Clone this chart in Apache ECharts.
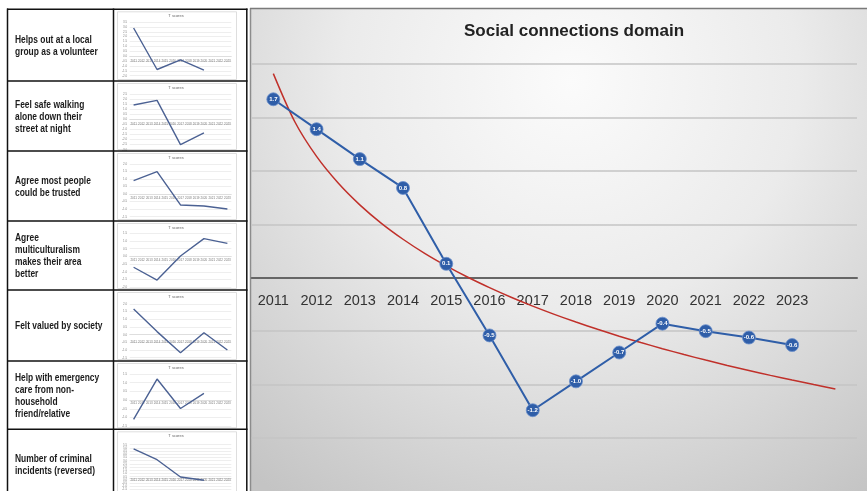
<!DOCTYPE html>
<html>
<head>
<meta charset="utf-8">
<script src="https://cdn.jsdelivr.net/npm/echarts@6/dist/echarts.min.js"></script>
<style>
html, body { margin: 0; padding: 0; background: #fff; }
#chart { width: 867px; height: 491px; }
</style>
</head>
<body>
<div id="chart"></div>
<script>
// main chart data
const years = ['2011', '2012', '2013', '2014', '2015', '2016', '2017', '2018', '2019', '2020', '2021', '2022', '2023', '']
const domainScores = [1.67, 1.39, 1.11, 0.84, 0.13, -0.54, -1.24, -0.97, -0.7, -0.43, -0.5, -0.56, -0.63]
// red trend line, every half year (it runs one period past 2023)
const trendPositions = [0, 0.5, 1, 1.5, 2, 2.5, 3, 3.5, 4, 4.5, 5, 5.5, 6, 6.5, 7, 7.5, 8, 8.5, 9, 9.5, 10, 10.5, 11, 11.5, 12, 12.5, 13]
const trendScores = [1.91, 1.457, 1.135, 0.886, 0.682, 0.509, 0.36, 0.228, 0.111, 0.004, -0.093, -0.183, -0.266, -0.343, -0.415, -0.483, -0.547, -0.607, -0.664, -0.719, -0.771, -0.821, -0.868, -0.914, -0.958, -1.0, -1.041]

// small table
const indicatorNames = [
	'Helps out at a local\ngroup as a volunteer',
	'Feel safe walking\nalone down their\nstreet at night',
	'Agree most people\ncould be trusted',
	'Agree\nmulticulturalism\nmakes their area\nbetter',
	'Felt valued by society',
	'Help with emergency\ncare from non-\nhousehold\nfriend/relative',
	'Number of criminal\nincidents (reversed)'
]
const miniYears = ['2011', '2012', '2013', '2014', '2015', '2016', '2017', '2018', '2019', '2020', '2021', '2022', '2023']
const volunteerScores = [5.77, null, null, -2.73, null, null, -0.74, null, null, -2.86, null, null, null]
const safeWalkingScores = [2.83, null, null, 3.75, null, null, -5, null, null, -2.7, null, null, null]
const trustScores = [1.79, null, null, 2.98, null, null, -1.44, null, null, -1.58, null, null, -1.97]
const multiculturalScores = [-1.4, null, null, -3.06, null, null, 0.06, null, null, 2.31, null, null, 1.7]
const valuedScores = [3.35, null, null, 0.4, null, null, -2.35, null, null, 0.26, null, null, -2.0]
const emergencyCareScores = [-2.2, null, null, 2.42, null, null, -0.96, null, null, 0.77, null, null, null]
const crimeScores = [9.72, null, null, 6.3, null, null, 0.9, null, null, -0.1, null, null, null]
const miniSeries = [volunteerScores, safeWalkingScores, trustScores, multiculturalScores, valuedScores, emergencyCareScores, crimeScores]

// layout of the table (pixels) and of each small chart's axis
const rowTops = [9.3, 81, 151, 221, 290, 361, 429.3, 499]
const miniLayout = [
	{ top: 22.0, bottom: 75.7, max: 7, min: -4, gap: 3 },
	{ top: 94.0, bottom: 149.7, max: 5, min: -6, gap: 3.8 },
	{ top: 164.0, bottom: 216.7, max: 4, min: -3, gap: 2.7 },
	{ top: 233.3, bottom: 287.3, max: 3, min: -4, gap: 2 },
	{ top: 304.0, bottom: 357.7, max: 4, min: -3, gap: 6 },
	{ top: 374.0, bottom: 426.3, max: 3, min: -3, gap: 1.5 },
	{ top: 444.7, bottom: 499.3, max: 11, min: -3, gap: 0.5 }
]
const mainGrid = { left: 251.7, right: 10, top: 64, bottom: 53 }
const mainMin = -1.5
const mainMax = 2

const sans = '"Liberation Sans", Arial, sans-serif'
const chart = echarts.init(document.getElementById('chart'))

function buildGraphic() {
	const g = []
	// main panel background
	g.push({
		type: 'rect', z: -10, silent: true,
		shape: { x: 250, y: 8, width: 617, height: 483 },
		style: {
			fill: {
				type: 'radial', x: 0.52, y: 0.15, r: 1.05,
				colorStops: [
					{ offset: 0, color: '#fbfbfb' },
					{ offset: 0.45, color: '#ebebeb' },
					{ offset: 1, color: '#c4c4c4' }
				]
			}
		}
	})
	g.push({ type: 'line', z: -9, shape: { x1: 250.5, y1: 8, x2: 250.5, y2: 491 }, style: { stroke: '#8c8c8c', lineWidth: 1.5 } })
	g.push({ type: 'line', z: -9, shape: { x1: 250, y1: 8.5, x2: 867, y2: 8.5 }, style: { stroke: '#7a7a7a', lineWidth: 1.5 } })

	// table cells
	for (let i = 0; i < indicatorNames.length; i++) {
		const top = rowTops[i]
		const bottom = rowTops[i + 1]
		g.push({
			type: 'rect', z: -5,
			shape: { x: 117.5, y: top + 2.5, width: 119, height: bottom - top - 4 },
			style: { fill: '#fff', stroke: '#d6d6d6', lineWidth: 0.8 }
		})
		g.push({
			type: 'text', z: 5,
			x: 176, y: top + 6.5,
			style: { text: 'T scores', fontSize: 4, fill: '#666', align: 'center', verticalAlign: 'middle', fontFamily: sans }
		})
		g.push({
			type: 'text', z: 5,
			x: 15, y: (top + bottom) / 2 + 1, scaleX: 0.78,
			style: {
				text: indicatorNames[i], fontSize: 10.8, fontWeight: 'bold', fill: '#1b1b1b',
				lineHeight: 12, align: 'left', verticalAlign: 'middle', fontFamily: sans
			}
		})
		g.push({ type: 'line', z: 6, shape: { x1: 7, y1: top, x2: 247.5, y2: top }, style: { stroke: '#111', lineWidth: 1.5 } })
	}
	;[7.5, 113.5, 246.8].forEach(x => {
		g.push({ type: 'line', z: 6, shape: { x1: x, y1: 8.5, x2: x, y2: 491 }, style: { stroke: '#111', lineWidth: 1.5 } })
	})
	return g
}

// the x axis sits at zero; push it up from the bottom of its grid
const mainHeight = 491 - mainGrid.top - mainGrid.bottom
const mainZeroOffset = -(mainHeight * (0 - mainMin)) / (mainMax - mainMin)

const grids = [mainGrid]
const xAxes = [{
	type: 'category', gridIndex: 0, data: years, boundaryGap: true, offset: mainZeroOffset,
	axisLine: { onZero: false, lineStyle: { color: '#666', width: 2 } },
	axisTick: { show: false },
	axisLabel: { margin: 16, fontSize: 14.5, color: '#333', fontFamily: sans, interval: 0 }
}]
const yAxes = [{
	type: 'value', gridIndex: 0, min: mainMin, max: mainMax, interval: 0.5,
	axisLabel: { show: false }, axisLine: { show: false }, axisTick: { show: false },
	splitLine: { lineStyle: { color: '#c4c4c4', width: 1.5 } }
}]
const series = [
	{
		type: 'line', xAxisIndex: 0, yAxisIndex: 0, data: domainScores,
		symbol: 'circle', symbolSize: 13,
		lineStyle: { color: '#2f5ea8', width: 2 },
		itemStyle: { color: '#2f5ea8', borderColor: '#6b8fcc', borderWidth: 0.8 },
		label: {
			show: true, position: 'inside', formatter: p => p.value.toFixed(1),
			color: '#fff', fontSize: 6, fontWeight: 'bold', fontFamily: sans
		},
		z: 4
	}
]

miniSeries.forEach((data, i) => {
	const m = miniLayout[i]
	const idx = i + 1
	const h = m.bottom - m.top
	grids.push({ left: 129.7, width: 101.6, top: m.top, height: h })
	xAxes.push({
		type: 'category', gridIndex: idx, data: miniYears, boundaryGap: true,
		offset: -(h * (0 - m.min)) / (m.max - m.min),
		axisLine: { onZero: false, lineStyle: { color: '#d4d4d4', width: 0.6 } },
		axisTick: { show: false },
		axisLabel: { interval: 0, fontSize: 3, color: '#777', margin: m.gap, fontFamily: sans }
	})
	yAxes.push({
		type: 'value', gridIndex: idx, min: m.min, max: m.max, interval: 1,
		axisLine: { show: false }, axisTick: { show: false },
		axisLabel: { fontSize: 3, color: '#888', margin: 2.5, formatter: v => (v * 0.5).toFixed(1), fontFamily: sans },
		splitLine: { lineStyle: { color: '#e2e2e2', width: 0.6 } }
	})
	series.push({
		type: 'line', xAxisIndex: idx, yAxisIndex: idx, data, connectNulls: true,
		symbol: 'none', lineStyle: { color: '#4b6193', width: 1.4 }, z: 3
	})
})

// hidden value axis in the main grid for the trend curve, lined up with the year bands
xAxes.push({
	type: 'value', gridIndex: 0, min: -0.5, max: 13.5, show: false
})
series.push({
	type: 'line', xAxisIndex: xAxes.length - 1, yAxisIndex: 0,
	data: trendPositions.map((x, i) => [x, trendScores[i]]), smooth: 0.3,
	symbol: 'none', lineStyle: { color: '#c0302a', width: 1.5 }, z: 3
})

chart.setOption({
	animation: false,
	backgroundColor: '#fff',
	title: {
		text: 'Social connections domain',
		left: 569, top: 18, textAlign: 'center',
		textStyle: { fontSize: 17, fontWeight: 'bold', color: '#222', fontFamily: sans }
	},
	graphic: buildGraphic(),
	grid: grids,
	xAxis: xAxes,
	yAxis: yAxes,
	series
})
</script>
</body>
</html>
